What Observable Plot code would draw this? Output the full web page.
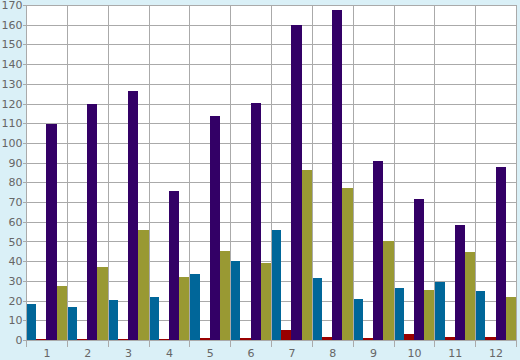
<!DOCTYPE html>
<html><head><meta charset="utf-8">
<script src="https://cdn.jsdelivr.net/npm/d3@7"></script>
<script src="https://cdn.jsdelivr.net/npm/@observablehq/plot@0.6"></script>
<style>
html,body{margin:0;padding:0;background:#daf0f7;}
</style></head><body><div id="chart"></div>
<script>
const months = ["1","2","3","4","5","6","7","8","9","10","11","12"];
const seriesNames = ["S1","S2","S3","S4"];
const blueValues   = [18.3, 16.8, 20.3, 21.8, 33.5, 40, 55.8, 31.5, 20.8, 26.4, 29.4, 24.9];
const redValues    = [0.5, 0.5, 0.5, 0.5, 1, 1, 5.1, 1.5, 1, 3, 1.5, 1.5];
const purpleValues = [109.6, 120, 126.4, 75.6, 113.7, 120.2, 159.9, 167.5, 90.9, 71.6, 58.4, 87.8];
const oliveValues  = [27.4, 37, 55.8, 32, 45, 39, 86.3, 77.2, 50, 25.4, 44.7, 21.8];
const colors = ["#006699","#990000","#330066","#999933"];
const yTicks = d3.range(0, 171, 10);

const seriesValues = [blueValues, redValues, purpleValues, oliveValues];
const data = months.flatMap((m, i) => seriesNames.map((s, j) => ({month: m, series: s, value: seriesValues[j][i]})));

const chart = Plot.plot({
  width: 520, height: 360,
  marginLeft: 26, marginRight: 4, marginTop: 5, marginBottom: 20,
  style: {background: "#daf0f7", fontFamily: "DejaVu Sans", fontSize: "11px", color: "#666"},
  fx: {domain: months, padding: 0, round: false, label: null, axis: null},
  x: {domain: seriesNames, padding: 0, round: false, axis: null},
  y: {domain: [0, 170], axis: null},
  color: {domain: seriesNames, range: colors},
  marks: [
    Plot.frame({fill: "white", facet: "super"}),
    Plot.gridY(yTicks, {stroke: "#aaa", strokeOpacity: 1, shapeRendering: "crispEdges"}),
    Plot.barY(data, {fx: "month", x: "series", y: "value", fill: "series", shapeRendering: "crispEdges"}),
    Plot.frame({anchor: "left", stroke: "#aaa", insetBottom: -6, shapeRendering: "crispEdges"}),
    Plot.frame({stroke: "#aaa", facet: "super", shapeRendering: "crispEdges"}),
    Plot.frame({anchor: "right", stroke: "#aaa", insetBottom: -6, facet: "super", shapeRendering: "crispEdges"}),
    Plot.axisY(yTicks, {tickSize: 3, tickPadding: 1, stroke: "#aaa", fill: "#666", label: null, shapeRendering: "crispEdges"}),
    Plot.axisFx({anchor: "bottom", tickSize: 0, tickPadding: 9, fill: "#666", label: null})
  ]
});
document.getElementById("chart").append(chart);
</script></body></html>
